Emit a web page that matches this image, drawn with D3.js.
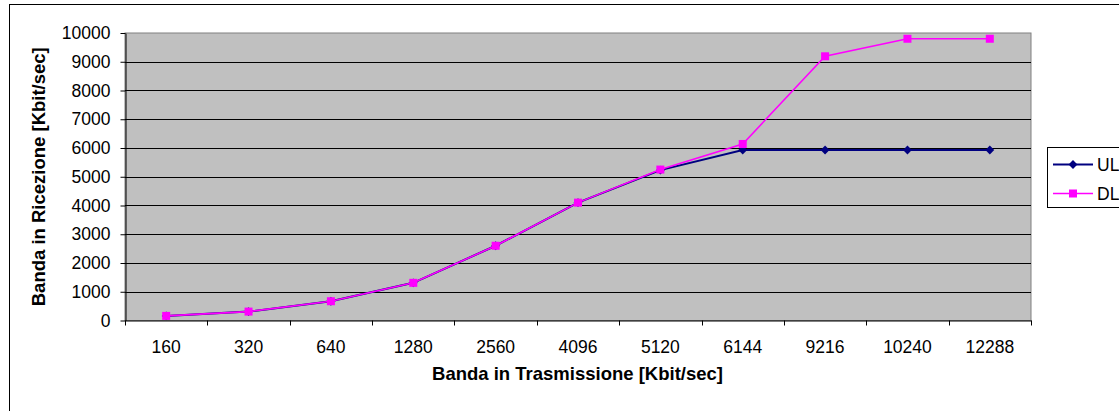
<!DOCTYPE html>
<html>
<head>
<meta charset="utf-8">
<script src="https://cdn.jsdelivr.net/npm/d3@7"></script>
<style>
  html, body { margin: 0; padding: 0; background: #fff; }
  svg { display: block; font-family: "Liberation Sans", Arial, sans-serif; }
</style>
</head>
<body>
<svg id="chart" width="1119" height="411"></svg>
<script>
// Bandwidth categories (transmission, Kbit/sec)
const categories = ["160", "320", "640", "1280", "2560", "4096", "5120", "6144", "9216", "10240", "12288"];
// Received bandwidth per series (Kbit/sec)
const ulValues = [160, 310, 670, 1310, 2600, 4100, 5230, 5930, 5930, 5930, 5930];
const dlValues = [160, 310, 670, 1310, 2600, 4100, 5250, 6140, 9190, 9800, 9800];
const yTicks = [0, 1000, 2000, 3000, 4000, 5000, 6000, 7000, 8000, 9000, 10000];
const seriesNames = ["UL", "DL"];

const svg = d3.select("#chart");
const plot = { left: 125, right: 1031, top: 33, bottom: 320.5 };

// Outer chart frame (extends past the visible window on the right and bottom)
svg.append("rect")
  .attr("x", 9.5).attr("y", 4.5)
  .attr("width", 1200).attr("height", 500)
  .attr("fill", "#fff").attr("stroke", "#000").attr("stroke-width", 1);

const x = d3.scaleBand().domain(categories).range([plot.left, plot.right]).padding(0);
const y = d3.scaleLinear().domain([0, 10000]).range([plot.bottom, plot.top]);

// Plot background
svg.append("rect")
  .attr("x", plot.left).attr("y", plot.top)
  .attr("width", plot.right - plot.left).attr("height", plot.bottom - plot.top)
  .attr("fill", "#c0c0c0").attr("stroke", "#808080").attr("stroke-width", 1);

// Horizontal gridlines
svg.append("g")
  .selectAll("line")
  .data(yTicks.filter(d => d > 0 && d < 10000))
  .join("line")
  .attr("x1", plot.left).attr("x2", plot.right)
  .attr("y1", d => Math.round(y(d)) + 0.5).attr("y2", d => Math.round(y(d)) + 0.5)
  .attr("stroke", "#000").attr("stroke-width", 1);

// Y axis
const yAxis = svg.append("g")
  .attr("transform", `translate(${plot.left + 0.5},0)`)
  .call(d3.axisLeft(y).tickValues(yTicks).tickSize(5).tickPadding(10).tickSizeOuter(0).tickFormat(d3.format("d")));
yAxis.select(".domain").attr("stroke", "#000");
yAxis.selectAll(".tick line").attr("stroke", "#000");
yAxis.selectAll(".tick text")
  .attr("font-size", "17.5px").attr("fill", "#000")
  .attr("font-family", "Liberation Sans, Arial, sans-serif");

// X axis with ticks on category boundaries
const xAxis = svg.append("g")
  .attr("transform", `translate(0,${plot.bottom})`)
  .call(d3.axisBottom(x).tickSize(0).tickPadding(20));
xAxis.select(".domain").attr("stroke", "#000");
xAxis.selectAll(".tick text")
  .attr("font-size", "17.5px").attr("fill", "#000")
  .attr("font-family", "Liberation Sans, Arial, sans-serif");
const bounds = categories.map(c => x(c)).concat([x(categories[categories.length - 1]) + x.bandwidth()]);
svg.append("g")
  .selectAll("line")
  .data(bounds)
  .join("line")
  .attr("x1", d => Math.round(d) + 0.5).attr("x2", d => Math.round(d) + 0.5)
  .attr("y1", plot.bottom).attr("y2", plot.bottom + 5)
  .attr("stroke", "#000");

const cx = c => x(c) + x.bandwidth() / 2;
const line = d3.line().x((d, i) => cx(categories[i])).y(d => y(d));

// UL series: navy line with diamond markers
svg.append("path").datum(ulValues)
  .attr("d", line).attr("fill", "none").attr("stroke", "#000080").attr("stroke-width", 2);
svg.append("g").selectAll("path")
  .data(ulValues)
  .join("path")
  .attr("d", d3.symbol(d3.symbolDiamond2, 50))
  .attr("transform", (d, i) => `translate(${cx(categories[i])},${y(d)})`)
  .attr("fill", "#000080");

// DL series: magenta line with square markers
svg.append("path").datum(dlValues)
  .attr("d", line).attr("fill", "none").attr("stroke", "#ff00ff").attr("stroke-width", 1.6);
svg.append("g").selectAll("rect")
  .data(dlValues)
  .join("rect")
  .attr("x", (d, i) => cx(categories[i]) - 4).attr("y", d => y(d) - 4)
  .attr("width", 8).attr("height", 8)
  .attr("fill", "#ff00ff");

// Axis titles
svg.append("text")
  .attr("x", (plot.left + plot.right) / 2 - 0.5).attr("y", 380)
  .attr("text-anchor", "middle")
  .attr("font-size", "18.5px").attr("font-weight", "bold")
  .text("Banda in Trasmissione [Kbit/sec]");
svg.append("text")
  .attr("transform", `translate(45,${(plot.top + plot.bottom) / 2}) rotate(-90)`)
  .attr("text-anchor", "middle")
  .attr("font-size", "18.5px").attr("font-weight", "bold")
  .text("Banda in Ricezione [Kbit/sec]");

// Legend
const legend = svg.append("g");
legend.append("rect")
  .attr("x", 1047.5).attr("y", 147.5).attr("width", 200).attr("height", 60)
  .attr("fill", "#fff").attr("stroke", "#000");
const legendRows = [
  { name: seriesNames[0], color: "#000080", y: 164.5, marker: "diamond", width: 2 },
  { name: seriesNames[1], color: "#ff00ff", y: 193.5, marker: "square", width: 1.6 }
];
legendRows.forEach(r => {
  legend.append("line")
    .attr("x1", 1053).attr("x2", 1093).attr("y1", r.y).attr("y2", r.y)
    .attr("stroke", r.color).attr("stroke-width", r.width);
  if (r.marker === "diamond") {
    legend.append("path")
      .attr("d", d3.symbol(d3.symbolDiamond2, 50))
      .attr("transform", `translate(1073,${r.y})`)
      .attr("fill", r.color);
  } else {
    legend.append("rect")
      .attr("x", 1069).attr("y", r.y - 4).attr("width", 8).attr("height", 8)
      .attr("fill", r.color);
  }
  legend.append("text")
    .attr("x", 1097).attr("y", r.y + 6)
    .attr("font-size", "17.5px")
    .text(r.name);
});
</script>
</body>
</html>
